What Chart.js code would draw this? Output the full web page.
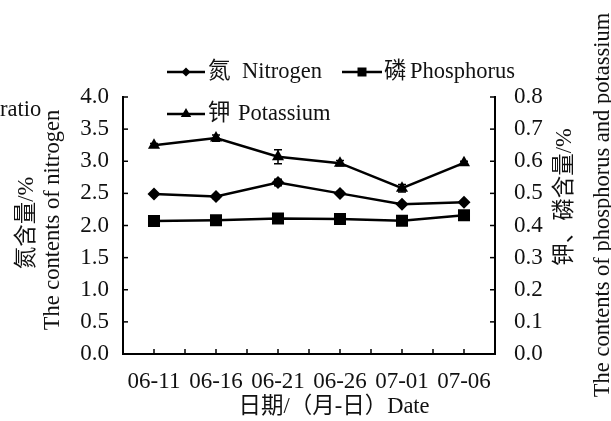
<!DOCTYPE html>
<html>
<head>
<meta charset="utf-8">
<script src="https://cdn.jsdelivr.net/npm/chart.js@4.4.1/dist/chart.umd.min.js"></script>
<style>
  html, body { margin: 0; padding: 0; background: #fff; }
  #wrap { position: relative; width: 611px; height: 421px; }
</style>
</head>
<body>
<div id="wrap"><canvas id="chart" width="611" height="421"></canvas></div>
<script>
const dates = ['06-11', '06-16', '06-21', '06-26', '07-01', '07-06'];
const nitrogen = [2.49, 2.45, 2.67, 2.50, 2.33, 2.36];
const phosphorus = [0.414, 0.416, 0.422, 0.420, 0.415, 0.432];
const potassium = [0.650, 0.672, 0.614, 0.594, 0.516, 0.595];
// standard errors (small, mostly hidden behind the markers)
const nitrogenErr = [0.02, 0.03, 0.05, 0.03, 0.02, 0.02];
const phosphorusErr = [0.004, 0.004, 0.005, 0.004, 0.004, 0.004];
const potassiumErr = [0.005, 0.010, 0.022, 0.008, 0.012, 0.005];

const FONT = '"Liberation Serif", "Noto Sans CJK SC", serif';
const INK = '#111';

const errorBars = [nitrogenErr, phosphorusErr, potassiumErr];

// small markers used in the legend only
function drawMarker(ctx, style, x, y) {
    ctx.beginPath();
    if (style === 'rectRot') {
        const r = 4.5;
        ctx.moveTo(x, y - r); ctx.lineTo(x + r, y); ctx.lineTo(x, y + r); ctx.lineTo(x - r, y);
    } else if (style === 'rect') {
        const s = 4.5;
        ctx.rect(x - s, y - s, 2 * s, 2 * s);
    } else {
        const r = 6;
        ctx.moveTo(x, y - r);
        ctx.lineTo(x + r * 0.866, y + r * 0.5);
        ctx.lineTo(x - r * 0.866, y + r * 0.5);
    }
    ctx.closePath();
    ctx.fill();
}

function vText(ctx, text, x, y) {
    ctx.save();
    ctx.translate(x, y);
    ctx.rotate(-Math.PI / 2);
    ctx.fillText(text, 0, 0);
    ctx.restore();
}

// legend placement: [lineStart, lineEnd, cjkX, engX, y]
const legendSpots = [[167, 205, 208, 242, 72], [342, 382, 384, 410, 72], [167, 205, 208, 238, 114]];

const decorations = {
    id: 'decorations',
    beforeDatasetsDraw(chart) {
        const ctx = chart.ctx;
        ctx.save();
        ctx.strokeStyle = '#000';
        ctx.lineWidth = 1.5;
        chart.data.datasets.forEach((ds, i) => {
            const meta = chart.getDatasetMeta(i);
            const ys = chart.scales[ds.yAxisID];
            errorBars[i].forEach((e, j) => {
                const x = meta.data[j].x;
                const t = ys.getPixelForValue(ds.data[j] + e);
                const b = ys.getPixelForValue(ds.data[j] - e);
                ctx.beginPath();
                ctx.moveTo(x, t); ctx.lineTo(x, b);
                ctx.moveTo(x - 4, t); ctx.lineTo(x + 4, t);
                ctx.moveTo(x - 4, b); ctx.lineTo(x + 4, b);
                ctx.stroke();
            });
        });
        ctx.restore();
    },
    afterDraw(chart) {
        const ctx = chart.ctx;
        const xs = chart.scales.x, yl = chart.scales.y, yr = chart.scales.y1;
        ctx.save();
        ctx.strokeStyle = '#000';
        ctx.lineWidth = 1.5;
        // inward tick marks
        const slot = xs.getPixelForValue(1) - xs.getPixelForValue(0);
        dates.forEach((d, i) => {
            const c = xs.getPixelForValue(i);
            const marks = i < dates.length - 1 ? [c, c + slot / 2] : [c];
            marks.forEach(px => {
                ctx.beginPath();
                ctx.moveTo(px, xs.top); ctx.lineTo(px, xs.top - 5);
                ctx.stroke();
            });
        });
        yl.ticks.forEach(t => {
            const py = yl.getPixelForValue(t.value);
            ctx.beginPath(); ctx.moveTo(yl.right, py); ctx.lineTo(yl.right + 5, py); ctx.stroke();
        });
        yr.ticks.forEach(t => {
            const py = yr.getPixelForValue(t.value);
            ctx.beginPath(); ctx.moveTo(yr.left, py); ctx.lineTo(yr.left - 5, py); ctx.stroke();
        });

        // legend
        ctx.font = '22.5px ' + FONT;
        ctx.fillStyle = INK;
        ctx.textBaseline = 'middle';
        ctx.textAlign = 'left';
        chart.data.datasets.forEach((ds, i) => {
            const [a, b, cx, ex, y] = legendSpots[i];
            ctx.strokeStyle = '#000';
            ctx.lineWidth = 2.5;
            ctx.beginPath(); ctx.moveTo(a, y); ctx.lineTo(b, y); ctx.stroke();
            ctx.fillStyle = '#000';
            drawMarker(ctx, ds.pointStyle, (a + b) / 2, y);
            ctx.fillStyle = INK;
            ctx.fillText(ds.cjk, cx, y);
            ctx.fillText(ds.eng, ex, y);
        });

        // axis titles
        ctx.textAlign = 'center';
        ctx.fillText('日期/（月-日）Date', 334, 407);
        vText(ctx, '氮含量/%', 27, 223);
        vText(ctx, 'The contents of nitrogen', 53, 220);
        vText(ctx, '钾、磷含量/%', 565, 197);
        vText(ctx, 'The contents of phosphorus and potassium', 603, 205);
        ctx.textAlign = 'left';
        ctx.fillText('ratio', 0, 110);
        ctx.restore();
    }
};

const tickFont = { family: FONT, size: 23 };

new Chart(document.getElementById('chart').getContext('2d'), {
    type: 'line',
    data: {
        labels: dates,
        datasets: [
            { cjk: '氮', eng: 'Nitrogen', data: nitrogen, yAxisID: 'y', pointStyle: 'rectRot', pointRadius: 6.5 },
            { cjk: '磷', eng: 'Phosphorus', data: phosphorus, yAxisID: 'y1', pointStyle: 'rect', pointRadius: 8.5 },
            { cjk: '钾', eng: 'Potassium', data: potassium, yAxisID: 'y1', pointStyle: 'triangle', pointRadius: 7 }
        ].map(ds => Object.assign(ds, {
            borderColor: '#000',
            backgroundColor: '#000',
            pointBackgroundColor: '#000',
            pointBorderColor: '#000',
            pointBorderWidth: 0,
            borderWidth: 2.5,
            tension: 0,
            fill: false
        }))
    },
    options: {
        responsive: false,
        animation: false,
        devicePixelRatio: 1,
        layout: { padding: { top: 97, left: 0, right: 0, bottom: 0 } },
        plugins: { legend: { display: false }, tooltip: { enabled: false } },
        scales: {
            x: {
                offset: true,
                grid: { display: false, drawTicks: false },
                border: { display: true, color: '#000', width: 2 },
                ticks: { font: tickFont, color: INK, padding: 14, maxRotation: 0, autoSkip: false },
                afterFit(s) { s.height = 67; }
            },
            y: {
                position: 'left',
                min: 0, max: 4,
                grid: { display: false, drawTicks: false },
                border: { display: true, color: '#000', width: 2 },
                ticks: { stepSize: 0.5, font: tickFont, color: INK, padding: 14, callback: v => v.toFixed(1) },
                afterFit(s) { s.width = 123; }
            },
            y1: {
                position: 'right',
                min: 0, max: 0.8,
                grid: { display: false, drawTicks: false },
                border: { display: true, color: '#000', width: 2 },
                ticks: { stepSize: 0.1, font: tickFont, color: INK, padding: 19, callback: v => v.toFixed(1) },
                afterFit(s) { s.width = 116; }
            }
        }
    },
    plugins: [decorations]
});
</script>
</body>
</html>
